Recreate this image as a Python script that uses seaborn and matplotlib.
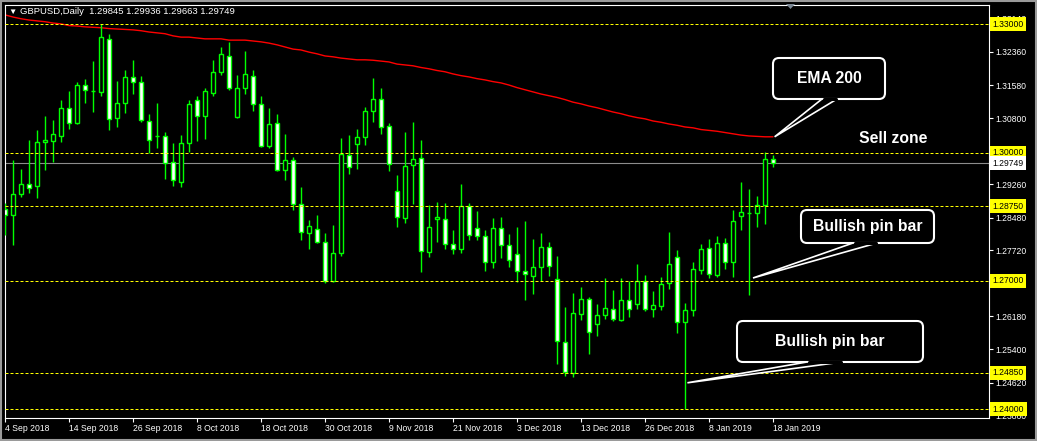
import numpy as np
import pandas as pd
import matplotlib
matplotlib.use('Agg')
import matplotlib.pyplot as plt
import matplotlib.transforms as mtransforms
from matplotlib.patches import FancyBboxPatch, Polygon, Rectangle
from matplotlib.lines import Line2D
import seaborn as sns

# GBPUSD daily candles, 4 Sep 2018 .. 18 Jan 2019
opens = [1.2868, 1.2854, 1.2903, 1.2927, 1.2922, 1.3025, 1.3027, 1.3039, 1.3105, 1.3069,
         1.3158, 1.3144, 1.3142, 1.3266, 1.3081, 1.3116, 1.3177, 1.3165, 1.3074, 1.3039,
         1.3039, 1.2978, 1.2932, 1.3023, 1.3123, 1.3086, 1.3140, 1.3189, 1.3226, 1.3084,
         1.3151, 1.3179, 1.3114, 1.3016, 1.3069, 1.2960, 1.2983, 1.2880, 1.2812, 1.2821,
         1.2791, 1.2700, 1.2766, 1.2995, 1.3020, 1.3037, 1.3098, 1.3126, 1.3062, 1.2910,
         1.2847, 1.2971, 1.2988, 1.2768, 1.2845, 1.2845, 1.2786, 1.2775, 1.2875, 1.2824,
         1.2805, 1.2744, 1.2824, 1.2784, 1.2763, 1.2723, 1.2712, 1.2733, 1.2779, 1.2705,
         1.2557, 1.2485, 1.2623, 1.2658, 1.2600, 1.2621, 1.2635, 1.2609, 1.2656, 1.2646,
         1.2700, 1.2635, 1.2642, 1.2695, 1.2756, 1.2604, 1.2632, 1.2726, 1.2777, 1.2714,
         1.2789, 1.2744, 1.2852, 1.2859, 1.2859, 1.2877, 1.29845]
highs = [1.2882, 1.2983, 1.2962, 1.3030, 1.3053, 1.3086, 1.3076, 1.3123, 1.3144, 1.3165,
         1.3172, 1.3214, 1.3301, 1.3277, 1.3168, 1.3193, 1.3217, 1.3179, 1.3091, 1.3116,
         1.3048, 1.3023, 1.3041, 1.3123, 1.3133, 1.3151, 1.3217, 1.3247, 1.3259, 1.3182,
         1.3238, 1.3193, 1.3133, 1.3105, 1.3091, 1.3044, 1.2990, 1.2920, 1.2843, 1.2854,
         1.2812, 1.2831, 1.3034, 1.3041, 1.3055, 1.3107, 1.3175, 1.3151, 1.3069, 1.2948,
         1.3048, 1.3072, 1.3030, 1.2877, 1.2885, 1.2882, 1.2819, 1.2927, 1.2882, 1.2864,
         1.2819, 1.2847, 1.2850, 1.2810, 1.2826, 1.2840, 1.2798, 1.2812, 1.2791, 1.2759,
         1.2639, 1.2672, 1.2686, 1.2663, 1.2646, 1.2707, 1.2679, 1.2707, 1.2700, 1.2740,
         1.2714, 1.2677, 1.2709, 1.2814, 1.2773, 1.2649, 1.2744, 1.2786, 1.2798, 1.2805,
         1.2800, 1.2866, 1.2932, 1.2915, 1.2899, 1.3002, 1.29936]
lows = [1.2807, 1.2784, 1.2896, 1.2906, 1.2894, 1.2960, 1.2978, 1.3025, 1.3055, 1.3067,
        1.3116, 1.3095, 1.3133, 1.3053, 1.3060, 1.3093, 1.3137, 1.3072, 1.3000, 1.3011,
        1.2938, 1.2922, 1.2920, 1.3002, 1.3027, 1.3032, 1.3133, 1.3182, 1.3147, 1.3081,
        1.3137, 1.3098, 1.3013, 1.3011, 1.2958, 1.2936, 1.2866, 1.2796, 1.2775, 1.2789,
        1.2695, 1.2698, 1.2759, 1.2950, 1.2962, 1.3018, 1.3072, 1.3044, 1.2957, 1.2826,
        1.2836, 1.2880, 1.2721, 1.2756, 1.2791, 1.2775, 1.2763, 1.2766, 1.2796, 1.2796,
        1.2723, 1.2730, 1.2754, 1.2733, 1.2698, 1.2656, 1.2670, 1.2700, 1.2712, 1.2506,
        1.2478, 1.2476, 1.2609, 1.2529, 1.2571, 1.2611, 1.2607, 1.2607, 1.2616, 1.2635,
        1.2630, 1.2616, 1.2632, 1.2681, 1.2578, 1.2400, 1.2618, 1.2716, 1.2707, 1.2709,
        1.2728, 1.2709, 1.2819, 1.2667, 1.2826, 1.2833, 1.29663]
closes = [1.2854, 1.2903, 1.2927, 1.2917, 1.3025, 1.3030, 1.3044, 1.3105, 1.3069, 1.3158,
          1.3147, 1.3144, 1.3270, 1.3079, 1.3116, 1.3177, 1.3165, 1.3076, 1.3030, 1.3039,
          1.2976, 1.2936, 1.3023, 1.3114, 1.3086, 1.3144, 1.3189, 1.3231, 1.3151, 1.3151,
          1.3184, 1.3114, 1.3016, 1.3067, 1.2960, 1.2983, 1.2880, 1.2814, 1.2828, 1.2791,
          1.2700, 1.2766, 1.2997, 1.2967, 1.3037, 1.3098, 1.3126, 1.3060, 1.2974, 1.2850,
          1.2969, 1.2985, 1.2770, 1.2826, 1.2850, 1.2786, 1.2775, 1.2875, 1.2807, 1.2805,
          1.2744, 1.2824, 1.2784, 1.2749, 1.2723, 1.2716, 1.2733, 1.2779, 1.2735, 1.2560,
          1.2487, 1.2625, 1.2658, 1.2581, 1.2621, 1.2637, 1.2611, 1.2656, 1.2635, 1.2700,
          1.2635, 1.2644, 1.2693, 1.2740, 1.2604, 1.2632, 1.2728, 1.2775, 1.2716, 1.2789,
          1.2744, 1.2840, 1.2861, 1.2859, 1.2877, 1.2985, 1.29749]
ema200 = [1.3322, 1.3317, 1.3313, 1.3310, 1.3308, 1.3306, 1.3303, 1.3301, 1.3297, 1.3296,
          1.3294, 1.3293, 1.3292, 1.3290, 1.3289, 1.3288, 1.3287, 1.3285, 1.3282, 1.3280,
          1.3278, 1.3273, 1.3270, 1.3270, 1.3268, 1.3266, 1.3266, 1.3266, 1.3263, 1.3263,
          1.3263, 1.3261, 1.3259, 1.3256, 1.3252, 1.3247, 1.3242, 1.3240, 1.3235, 1.3231,
          1.3226, 1.3224, 1.3221, 1.3219, 1.3217, 1.3217, 1.3216, 1.3214, 1.3212, 1.3207,
          1.3205, 1.3203, 1.3199, 1.3196, 1.3192, 1.3189, 1.3184, 1.3180, 1.3177, 1.3173,
          1.3170, 1.3166, 1.3163, 1.3158, 1.3152, 1.3147, 1.3142, 1.3137, 1.3133, 1.3129,
          1.3124, 1.3118, 1.3114, 1.3109, 1.3105, 1.3100, 1.3095, 1.3091, 1.3086, 1.3082,
          1.3079, 1.3074, 1.3071, 1.3067, 1.3064, 1.3060, 1.3058, 1.3054, 1.3052, 1.3050,
          1.3047, 1.3044, 1.3041, 1.3039, 1.3038, 1.3037, 1.3037]

date_labels = ['4 Sep 2018', '14 Sep 2018', '26 Sep 2018', '8 Oct 2018', '18 Oct 2018',
               '30 Oct 2018', '9 Nov 2018', '21 Nov 2018', '3 Dec 2018', '13 Dec 2018',
               '26 Dec 2018', '8 Jan 2019', '18 Jan 2019']
price_ticks = [1.33140, 1.32360, 1.31580, 1.30800, 1.29260, 1.28480,
               1.27720, 1.26180, 1.25400, 1.24620, 1.23860]
levels = [1.33000, 1.30000, 1.28750, 1.27000, 1.24850, 1.24000]

df = pd.DataFrame({'open': opens, 'high': highs, 'low': lows,
                   'close': closes, 'ema': ema200})
df['bar'] = np.arange(len(df))

sns.set_theme(style='dark', rc={'axes.facecolor': 'black', 'figure.facecolor': 'black'})
plt.rcParams['font.family'] = ['Liberation Sans', 'DejaVu Sans']

W, H = 1037, 441
fig = plt.figure(figsize=(W / 100, H / 100), dpi=100)
ax = fig.add_axes([5 / W, 23 / H, 984 / W, 413 / H])
ax.set_facecolor('black')
ax.grid(False)

green = '#00ff00'
last = df['close'].iloc[-1]

# bid line and EMA
ax.axhline(last, color='#8c8c8c', lw=0.8, zorder=1)
sns.lineplot(data=df, x='bar', y='ema', color='#ff0000', lw=1.0, ax=ax, zorder=2)

# candles: white body = bearish, black body = bullish
up = df['close'] >= df['open']
ax.vlines(df['bar'], df['low'], df['high'], color=green, lw=1.0, zorder=3)
ax.bar(df['bar'], (df['close'] - df['open']).abs(),
       bottom=df[['open', 'close']].min(axis=1), width=0.55,
       color=np.where(up, 'black', 'white'), edgecolor=green, linewidth=1.0, zorder=4)

for lv in levels:
    ax.axhline(lv, color='#ffff00', lw=0.72, ls=(0, (3, 2)), zorder=5)

ax.set_xlim(0, 123)
ax.set_ylim(1.237971, 1.334511)
ax.set_xlabel('')
ax.set_ylabel('')

ax.set_xticks(range(0, len(df), 8))
ax.set_xticklabels(date_labels, ha='left')
ax.yaxis.tick_right()
ax.set_yticks(price_ticks)
ax.set_yticklabels([f'{v:.5f}' for v in price_ticks])
ax.tick_params(axis='x', colors='white', bottom=True, length=3, width=0.8, pad=1.5,
               labelsize=6.2, direction='out')
ax.tick_params(axis='y', colors='white', right=True, left=False, length=3, width=0.8,
               pad=1.5, labelsize=6.2, direction='out')
for s in ax.spines.values():
    s.set_color('white')
    s.set_linewidth(0.8)
    s.set_visible(True)

blend = mtransforms.blended_transform_factory(ax.transAxes, ax.transData)
for lv in levels:
    ax.text(1.0035, lv, f'{lv:.5f}', transform=blend, ha='left', va='center',
            fontsize=6.2, color='black', clip_on=False, zorder=6,
            bbox=dict(boxstyle='square,pad=0.3', fc='#ffff00', ec='none'))
ax.text(1.0035, last, f'{last:.5f}', transform=blend, ha='left', va='center',
        fontsize=6.2, color='black', clip_on=False, zorder=6,
        bbox=dict(boxstyle='square,pad=0.3', fc='white', ec='none'))

# header
fig.text(8 / W, 1 - 12 / H, '\u25bc', color='white', fontsize=6, va='center')
fig.text(20 / W, 1 - 12 / H,
         f"GBPUSD,Daily  {opens[-1]:.5f} {highs[-1]:.5f} {lows[-1]:.5f} {closes[-1]:.5f}",
         color='white', fontsize=6.8, va='center')

ident = mtransforms.IdentityTransform()
fig.add_artist(Polygon([(786, H - 4), (795, H - 4), (790.5, H - 9)], closed=True,
                       fc='#7b8794', ec='none', transform=ident, zorder=12))
fig.add_artist(Rectangle((1, 1), W - 2, H - 2, fill=False, ec='#9a9a9a', lw=1.5,
                         transform=ident, zorder=12))


def callout(text, box, base, tip):
    x0, y0, x1, y1 = box
    tx, ty = ax.transData.transform(tip)
    fig.add_artist(FancyBboxPatch((x0, H - y1), x1 - x0, y1 - y0,
                                  boxstyle='round,pad=0,rounding_size=6',
                                  fc='black', ec='white', lw=1.5, transform=ident, zorder=8))
    fig.add_artist(Polygon([(base[0], H - y1), (tx, ty), (base[1], H - y1)], closed=True,
                           fc='black', ec='white', lw=1.2, transform=ident, zorder=9))
    fig.add_artist(Line2D([base[0] + 1.5, base[1] - 1.5], [H - y1, H - y1], color='black',
                          lw=2.2, transform=ident, zorder=10))
    fig.text((x0 + x1) / 2 / W, 1 - (y0 + y1) / 2 / H, text, color='white', fontsize=11.3,
             fontweight='bold', ha='center', va='center', zorder=11)


callout('EMA 200', (773, 58, 885, 99), (822, 837), (96.2, 1.3037))
callout('Bullish pin bar', (801, 210, 934, 243), (853, 877), (93.5, 1.2707))
callout('Bullish pin bar', (737, 321, 923, 362), (807, 842), (85.3, 1.2462))
ax.text(111, 1.3032, 'Sell zone', color='white', fontsize=11.3, fontweight='bold',
        ha='center', va='center')

fig.savefig('out.png', dpi=100, facecolor='black')
